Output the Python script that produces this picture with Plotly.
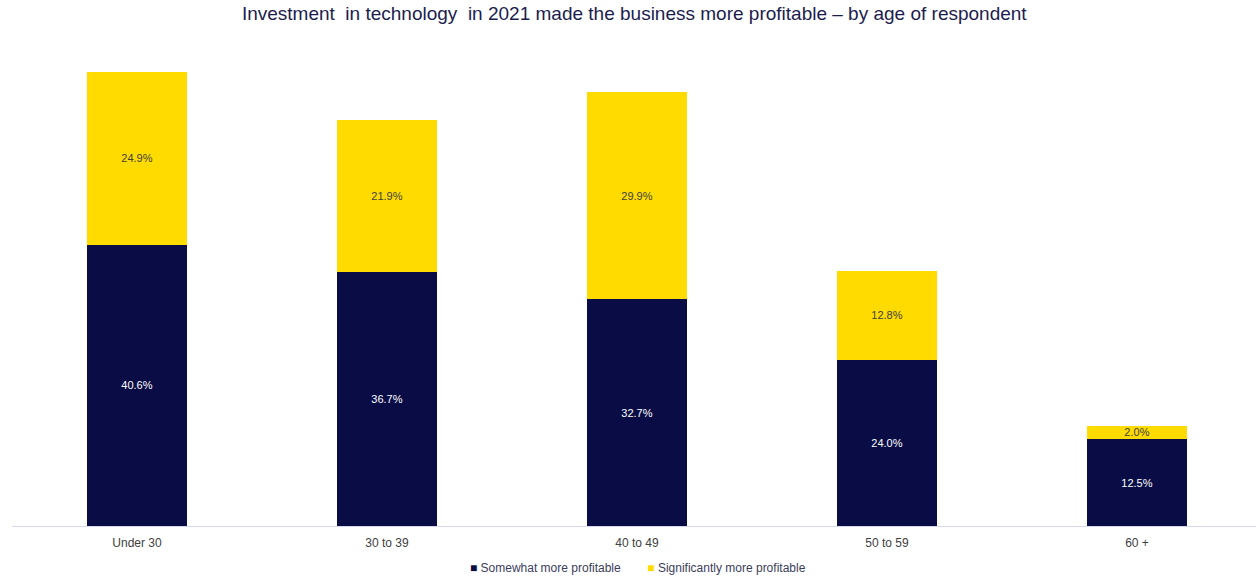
import plotly.graph_objects as go

# Share of respondents by age band
age_groups = ["Under 30", "30 to 39", "40 to 49", "50 to 59", "60 +"]
somewhat_more = [40.6, 36.7, 32.7, 24.0, 12.5]
significantly_more = [24.9, 21.9, 29.9, 12.8, 2.0]

NAVY = "#090c45"
YELLOW = "#ffdb00"
FONT = "Liberation Sans, Arial, sans-serif"

fig = go.Figure()
fig.add_trace(go.Bar(
    x=age_groups, y=somewhat_more, name="Somewhat more profitable",
    marker=dict(color=NAVY, line=dict(width=0)),
    text=[f"{v:.1f}%" for v in somewhat_more],
    textposition="inside", insidetextanchor="middle",
    textfont=dict(color="#ffffff", size=11, family=FONT),
    width=0.4, showlegend=False,
))
fig.add_trace(go.Bar(
    x=age_groups, y=significantly_more, name="Significantly more profitable",
    marker=dict(color=YELLOW, line=dict(width=0)),
    text=[f"{v:.1f}%" for v in significantly_more],
    textposition="inside", insidetextanchor="middle",
    textfont=dict(color="#404040", size=11, family=FONT),
    width=0.4, showlegend=False,
))

# Legend drawn as a single centred line below the axis
legend_text = (
    f"<span style='color:{NAVY}'>■</span> Somewhat more profitable"
    "        "
    f"<span style='color:{YELLOW}'>■</span> Significantly more profitable"
)
fig.add_annotation(
    text=legend_text, xref="paper", yref="paper", x=0.5035, y=-0.087,
    xanchor="center", yanchor="middle", showarrow=False,
    font=dict(size=12, color="#3c3d5c", family=FONT),
)

fig.update_layout(
    barmode="stack",
    width=1256, height=580,
    margin=dict(l=12, r=0, t=41, b=54),
    paper_bgcolor="white", plot_bgcolor="white",
    title=dict(
        text="Investment  in technology  in 2021 made the business more profitable – by age of respondent",
        x=0.505, xanchor="center", y=0.977, yanchor="middle",
        font=dict(size=19, color="#1c1d4f", family=FONT),
    ),
    uniformtext=dict(minsize=11, mode="show"),
    font=dict(family=FONT),
)
fig.update_xaxes(
    range=[-0.5, 4.476], showline=True, linecolor="#d6d6ee", linewidth=1,
    showgrid=False, ticks="", ticklabelstandoff=6,
    tickfont=dict(size=12, color="#404040", family=FONT),
    fixedrange=True,
)
fig.update_yaxes(range=[0, 70], visible=False, showgrid=False, zeroline=False)

fig.write_html("out.html")
